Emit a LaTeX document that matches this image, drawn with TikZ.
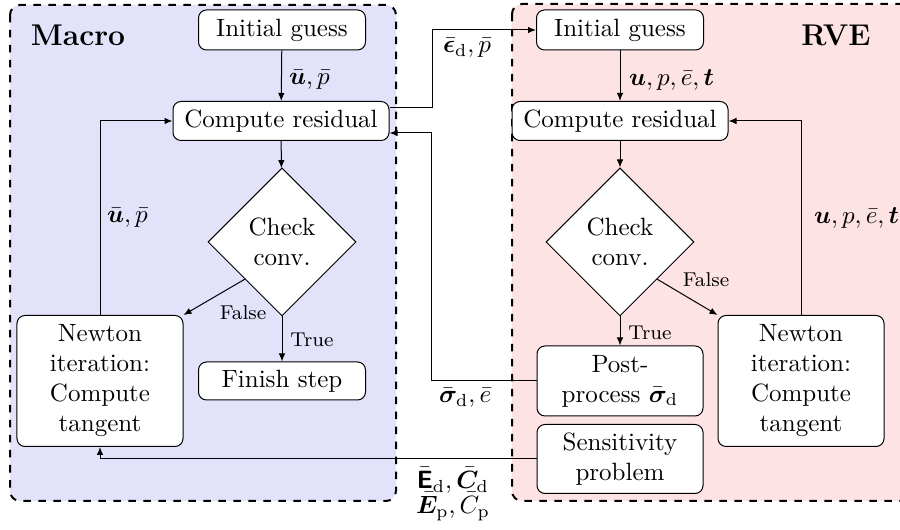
\documentclass[tikz,border=0pt]{standalone}
\usepackage{amsmath}
\usepackage{bm}
\usetikzlibrary{shapes.geometric,arrows.meta,calc}
\definecolor{macrobg}{RGB}{226,226,250}
\definecolor{rvebg}{RGB}{253,227,227}
\begin{document}
\begin{tikzpicture}[x=0.4pt,y=-0.4pt,
  box/.style={draw,rounded corners=3.2pt,fill=white,align=center,inner sep=1pt},
  dia/.style={draw,diamond,fill=white,align=center,inner sep=0pt,minimum width=59.2pt,minimum height=59.2pt},
  arr/.style={-{Latex[length=3.2pt,width=2.6pt]}},
  frame/.style={draw,thick,dashed,rounded corners=4pt},
  lab/.style={inner sep=1pt,anchor=west},
  tf/.style={inner sep=1pt,font=\footnotesize}]
\useasboundingbox (0,0) rectangle (900,530);
% frames
\path[frame,fill=macrobg] (10,5) rectangle (396,501);
\path[frame,fill=rvebg] (512,4) rectangle (912,501);
\node[font=\large\bfseries] (tmacro) at (78,35) {Macro};
\node[font=\large\bfseries] (trve) at (836,35) {RVE};
% Macro nodes
\node[box,minimum width=66.8pt,minimum height=16pt] (ig1) at (282,30) {Initial guess};
\node[box,minimum width=86.4pt,minimum height=15.6pt] (cr1) at (281,121) {Compute residual};
\node[dia] (chk1) at (282,242) {Check\\conv.};
\node[box,minimum width=66.4pt,minimum height=52.4pt] (nt1) at (100,381) {Newton\\iteration:\\Compute\\tangent};
\node[box,minimum width=66.8pt,minimum height=15.2pt] (fin) at (282,381) {Finish step};
% RVE nodes
\node[box,minimum width=66.8pt,minimum height=16pt] (ig2) at (620,30) {Initial guess};
\node[box,minimum width=86.4pt,minimum height=15.6pt] (cr2) at (620,121) {Compute residual};
\node[dia] (chk2) at (620,242) {Check\\conv.};
\node[box,minimum width=66.4pt,minimum height=28pt] (pp) at (620,381) {Post-\\process $\bar{\bm\sigma}_\mathrm{d}$};
\node[box,minimum width=66.4pt,minimum height=27.6pt] (sp) at (620,459) {Sensitivity\\problem};
\node[box,minimum width=66.4pt,minimum height=52.4pt] (nt2) at (801,381) {Newton\\iteration:\\Compute\\tangent};
% Macro connectors
\draw[arr] (ig1) -- (cr1);
\draw[arr] (cr1) -- (chk1);
\draw[arr] (chk1.south) -- (fin.north);
\draw[arr] (chk1.south west) -- (nt1.north east);
\draw[arr] (nt1.north) |- (cr1.west);
\node[lab] (l1) at (286,80) {$\bar{\bm u},\bar p$};
\node[lab] (l2) at (104,218) {$\bar{\bm u},\bar p$};
\node[tf] (f1) at (243,313) {False};
\node[tf] (t1) at (312,340) {True};
% RVE connectors
\draw[arr] (ig2) -- (cr2);
\draw[arr] (cr2) -- (chk2);
\draw[arr] (chk2.south) -- (pp.north);
\draw[arr] (chk2.south east) -- (nt2.north west);
\draw[arr] (nt2.north) |- (cr2.east);
\node[lab] (l3) at (626,80) {$\bm u,p,\bar e,\bm t$};
\node[lab] (l4) at (811,218) {$\bm u,p,\bar e,\bm t$};
\node[tf] (f2) at (706,280) {False};
\node[tf] (t2) at (650,333) {True};
% coupling connectors
\draw[arr] ($(cr1.east)+(0,-13)$) -- ++(43,0) |- (ig2.west);
\draw[arr] (pp.west) -- ++(-105,0) |- ($(cr1.east)+(0,12)$);
\draw[arr] (sp.west) -| (nt1.south);
\node[lab] (l5) at (440,48) {$\bar{\bm\epsilon}_\mathrm{d},\bar p$};
\node[lab] (l6) at (436,398) {$\bar{\bm\sigma}_\mathrm{d},\bar e$};
\node[lab,align=center] (l7) at (413,494) {$\bar{\textsf{\textbf{E}}}_\mathrm{d},\bar{\bm C}_\mathrm{d}$\\[-2pt]$\bar{\bm E}_\mathrm{p},\bar C_\mathrm{p}$};
\end{tikzpicture}
\end{document}
